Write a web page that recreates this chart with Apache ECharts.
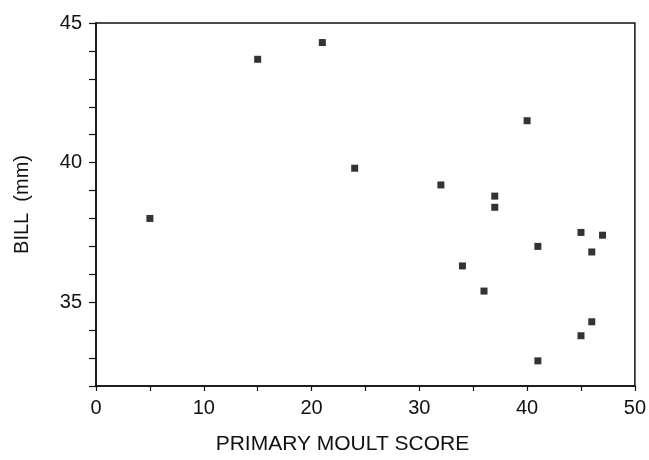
<!DOCTYPE html>
<html>
<head>
<meta charset="utf-8">
<script src="https://cdn.jsdelivr.net/npm/echarts@6/dist/echarts.min.js"></script>
<style>
    html, body { margin: 0; padding: 0; background: #fff; }
    #chart { width: 649px; height: 460px; }
</style>
</head>
<body>
<div id="chart"></div>
<script>
// moult score vs bill length
const moultScore = [5, 15, 21, 24, 32, 37, 37, 40, 41, 34, 36, 45, 47, 46, 46, 45, 41];
const billMm = [38.0, 43.7, 44.3, 39.8, 39.2, 38.8, 38.4, 41.5, 37.0, 36.3, 35.4, 37.5, 37.4, 36.8, 34.3, 33.8, 32.9];
const xLabels = [0, 10, 20, 30, 40, 50];
const yLabels = [35, 40, 45];

const points = moultScore.map((x, i) => [x, billMm[i]]);

const font = 'Liberation Sans';
const myChart = echarts.init(document.getElementById('chart'));
myChart.setOption({
    animation: false,
    backgroundColor: '#fff',
    grid: {
        left: 96,
        right: 10,
        top: 23,
        bottom: 66,
        show: true,
        borderColor: '#111',
        borderWidth: 1.5,
    },
    xAxis: {
        type: 'value',
        min: 0,
        max: 50,
        interval: 5,
        name: 'PRIMARY MOULT SCORE',
        nameLocation: 'middle',
        nameGap: 48,
        nameTextStyle: {
            fontFamily: font,
            fontSize: 21,
            color: '#111',
            padding: [0, 46, 0, 0],
        },
        axisLine: { lineStyle: { color: '#111', width: 1.5 } },
        axisTick: { inside: false, length: 5, lineStyle: { color: '#111', width: 1.2 } },
        axisLabel: {
            margin: 12,
            fontFamily: font,
            fontSize: 20,
            color: '#111',
            formatter: v => xLabels.includes(v) ? String(v) : '',
        },
        splitLine: { show: false },
    },
    yAxis: {
        type: 'value',
        min: 32,
        max: 45,
        interval: 1,
        name: 'BILL  (mm)',
        nameLocation: 'middle',
        nameGap: 64,
        nameTextStyle: {
            fontFamily: font,
            fontSize: 20,
            color: '#111',
        },
        axisLine: { lineStyle: { color: '#111', width: 1.5 } },
        axisTick: { inside: false, length: 7, lineStyle: { color: '#111', width: 1.2 } },
        axisLabel: {
            margin: 14,
            fontFamily: font,
            fontSize: 20,
            color: '#111',
            formatter: v => yLabels.includes(v) ? String(v) : '',
        },
        splitLine: { show: false },
    },
    series: [{
        type: 'scatter',
        data: points,
        symbol: 'rect',
        symbolSize: 7,
        itemStyle: { color: '#000' },
    }],
});
</script>
</body>
</html>
